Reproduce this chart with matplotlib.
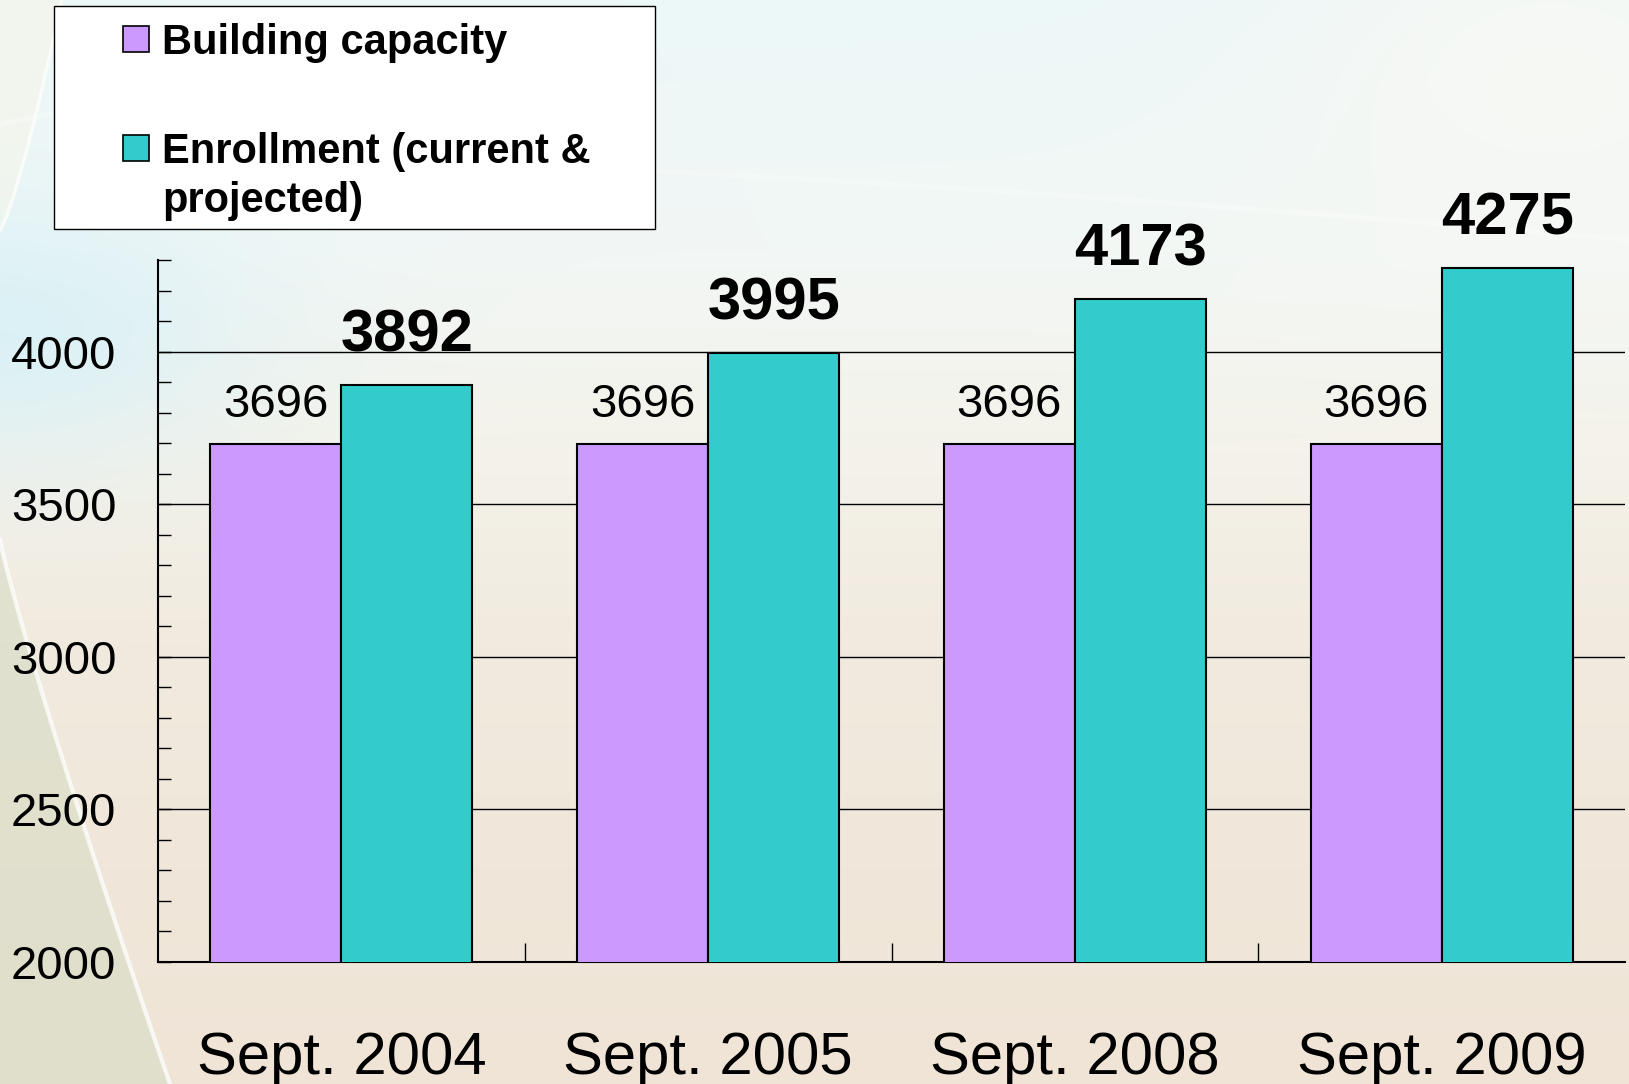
import numpy as np
import matplotlib
matplotlib.use('Agg')
import matplotlib.pyplot as plt
from matplotlib.patches import Rectangle
from matplotlib.ticker import MultipleLocator, FixedLocator

# ---- data ----
categories = ['Sept. 2004', 'Sept. 2005', 'Sept. 2008', 'Sept. 2009']
capacity = [3696, 3696, 3696, 3696]
enrollment = [3892, 3995, 4173, 4275]
series_names = ['Building capacity', 'Enrollment (current &\nprojected)']
y_ticks = [2000, 2500, 3000, 3500, 4000]

purple = '#CC99FF'
teal = '#33CCCC'

W, H = 1629, 1084
DPI = 100
plt.rcParams['font.family'] = ['Liberation Sans', 'DejaVu Sans']

fig = plt.figure(figsize=(W / DPI, H / DPI), dpi=DPI)

# ---- background ----
bg = fig.add_axes([0, 0, 1, 1], zorder=-10)
yy, xx = np.mgrid[0:H, 0:W].astype(float)
ky = np.array([0, 250, 450, 650, H], float)
kc = np.array([[236, 247, 248],
               [242, 247, 245],
               [244, 242, 234],
               [241, 234, 222],
               [239, 228, 214]], float)
img = np.zeros((H, W, 3))
for c in range(3):
    img[..., c] = np.interp(yy[:, 0], ky, kc[:, c])[:, None]
# warm highlight top-right
wr = np.exp(-((xx - 1550) / 300) ** 2 - ((yy - 60) / 220) ** 2) * 0.6
img = img * (1 - wr[..., None]) + np.array([252, 249, 242]) * wr[..., None]
# cyan tint on the left
cy = np.exp(-((yy - 330) / 140) ** 2) * np.exp(-(xx / 260) ** 2) * 0.8
img = img * (1 - cy[..., None]) + np.array([214, 240, 247]) * cy[..., None]
# lower-left region beyond the arc
t = np.clip((yy - 540) / (H - 540), 0, None)
xc = 170 * t ** 1.1
mask = (yy > 540) & (xx < xc)
gg = np.array([218, 221, 200], float)
img[mask] = img[mask] * 0.3 + gg * 0.7
# top-left corner cream region
t2 = np.clip(1 - yy / 230, 0, None)
xc2 = 62 * t2 ** 0.8
mask2 = xx < xc2
img[mask2] = img[mask2] * 0.5 + np.array([246, 245, 230]) * 0.5
bg.imshow(np.clip(img, 0, 255).astype(np.uint8), extent=(0, W, H, 0),
          aspect='auto', interpolation='bilinear')
ys = np.linspace(540, H, 100)
bg.plot(170 * ((ys - 540) / (H - 540)) ** 1.1, ys, color='white', lw=3, alpha=0.75)
ys2 = np.linspace(0, 230, 60)
bg.plot(62 * (1 - ys2 / 230) ** 0.8, ys2, color='white', lw=2.5, alpha=0.7)
xs3 = np.linspace(0, W, 200)
bg.plot(xs3, 150 + 90 * (xs3 / W) ** 1.6 - 40 * np.exp(-((xs3 - 100) / 150) ** 2),
        color='white', lw=4, alpha=0.25)
bg.set_xlim(0, W)
bg.set_ylim(H, 0)
bg.axis('off')

# ---- legend (drawn in pixel space on background axes) ----
bg.add_patch(Rectangle((54, 6), 601, 223, facecolor='white', edgecolor='black',
                       lw=1.0, zorder=5))
leg_colors = [purple, teal]
leg_rows = [39, 148]
for col, yc, name in zip(leg_colors, leg_rows, series_names):
    bg.add_patch(Rectangle((123, yc - 13), 26, 26, facecolor=col,
                           edgecolor='black', lw=1.2, zorder=6))
    bg.text(162, yc - 16, name, fontsize=30, fontweight='bold', ha='left',
            va='top', linespacing=1.28, zorder=7)

# ---- main axes ----
ax = fig.add_axes([158 / W, (H - 962) / H, (1625 - 158) / W, (962 - 260) / H])
ax.patch.set_alpha(0)
x = np.arange(len(categories))
w = 1 / 2.8
ax.bar(x - w / 2, capacity, w, color=purple, edgecolor='black', lw=1.5, zorder=3)
ax.bar(x + w / 2, enrollment, w, color=teal, edgecolor='black', lw=1.5, zorder=3)
ax.set_xlim(-0.5, len(categories) - 0.5)
ax.set_ylim(2000, 4300)

ax.set_yticks(y_ticks)
ax.yaxis.set_minor_locator(MultipleLocator(100))
ax.yaxis.grid(True, which='major', color='black', lw=1.0)
ax.set_axisbelow(True)
ax.tick_params(axis='y', which='both', direction='in', length=9.5, width=1,
               labelsize=34, pad=30)

ax.set_xticks(x, categories)
ax.xaxis.set_minor_locator(FixedLocator(list(x[:-1] + 0.5)))
ax.tick_params(axis='x', which='major', length=0, labelsize=43, pad=50)
ax.tick_params(axis='x', which='minor', direction='in', length=14, width=1)

for s in ['top', 'right']:
    ax.spines[s].set_visible(False)
for s in ['left', 'bottom']:
    ax.spines[s].set_color('black')
    ax.spines[s].set_linewidth(1.5)

for xi, v in zip(x, capacity):
    ax.annotate(str(v), (xi - w / 2, v), xytext=(0, 20), textcoords='offset points',
                ha='center', va='baseline', fontsize=34, zorder=5)
for xi, v in zip(x, enrollment):
    ax.annotate(str(v), (xi + w / 2, v), xytext=(0, 24), textcoords='offset points',
                ha='center', va='baseline', fontsize=43, fontweight='bold', zorder=5)

fig.savefig('out.png', dpi=DPI)
